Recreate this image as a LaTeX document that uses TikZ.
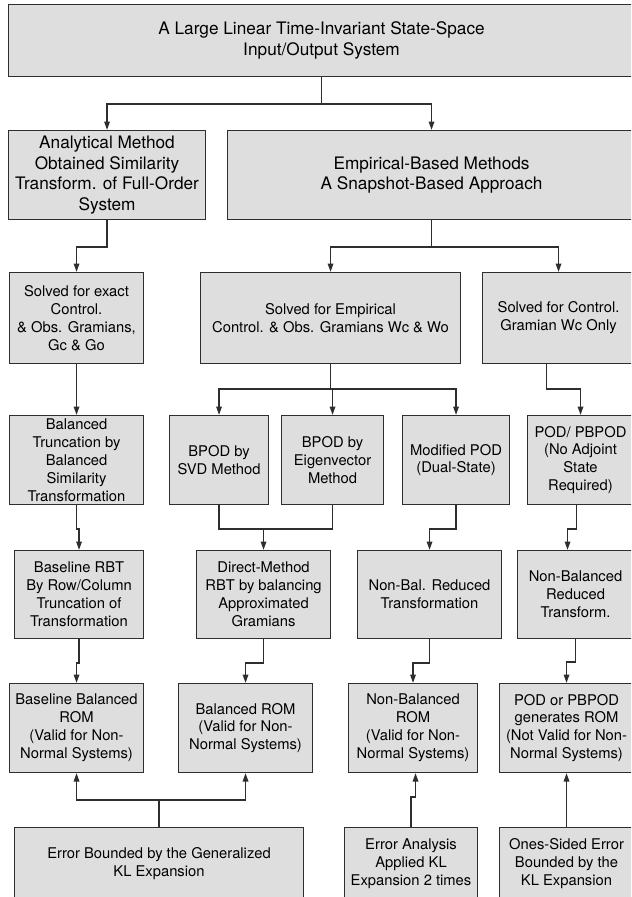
\documentclass[tikz,border=0pt]{standalone}
\usepackage{fontspec}
\setmainfont{TeX Gyre Heros}
\usepackage{tikz}
\usetikzlibrary{arrows.meta}
\definecolor{boxc}{HTML}{DEDEDE}
\definecolor{linec}{HTML}{2E2E2E}
\tikzset{
  blk/.style 2 args={draw=linec, fill=boxc, line width=0.6pt, inner sep=0pt, align=center,
    anchor=north west, minimum width=#1*0.2mm, minimum height=#2*0.2mm,
    font={\fontsize{8.4}{10.2}\selectfont}},
  headblk/.style 2 args={blk={#1}{#2}, font={\fontsize{9.8}{11.7}\selectfont}},
  link/.style={draw=linec, line width=0.9pt, -{Triangle[length=1.7mm,width=1.1mm]}},
  joint/.style={draw=linec, line width=0.9pt},
}
\begin{document}
\begin{tikzpicture}[x=0.2mm, y=-0.2mm]
\useasboundingbox (0,0) rectangle (631,897);
\fill[white] (0,0) rectangle (631,897);
\clip (0,0) rectangle (631,897);
\node[headblk={626}{72}] (top) at (8,4) {A Large Linear Time-Invariant State-Space\\Input/Output System};
\node[headblk={197}{89}] (ana) at (8,130) {Analytical Method\\Obtained Similarity\\Transform. of Full-Order\\System};
\node[headblk={408}{89}] (emp) at (227,130) {Empirical-Based Methods\\A Snapshot-Based Approach};
\node[blk={134}{91}] (exact) at (9,272) {Solved for exact\\Control.\\\& Obs. Gramians,\\Gc \& Go};
\node[blk={260}{91}] (empsol) at (200,272) {Solved for Empirical\\Control. \& Obs. Gramians Wc \& Wo};
\node[blk={152}{91}] (ctrl) at (482,272) {Solved for Control.\\Gramian Wc Only};
\node[blk={134}{89}] (baltr) at (9,415) {Balanced\\Truncation by\\Balanced\\Similarity\\Transformation};
\node[blk={99}{89}] (svd) at (169,415) {BPOD by\\SVD Method};
\node[blk={102}{89}] (eig) at (281,415) {BPOD by\\Eigenvector\\Method};
\node[blk={107}{89}] (modpod) at (402,415) {Modified POD\\(Dual-State)};
\node[blk={106}{89}] (pbpod) at (527,415) {POD/ PBPOD\\(No Adjoint\\State\\Required)};
\node[blk={129}{88}] (rbt) at (14,550) {Baseline RBT\\By Row/Column\\Truncation of\\Transformation};
\node[blk={134}{88}] (direct) at (196,550) {Direct-Method\\RBT by balancing\\Approximated\\Gramians};
\node[blk={144}{88}] (nonbal) at (357,550) {Non-Bal. Reduced\\Transformation};
\node[blk={116}{88}] (nbred) at (517,550) {Non-Balanced\\Reduced\\Transform.};
\node[blk={134}{89}] (bbrom) at (9,683) {Baseline Balanced\\ROM\\(Valid for Non-\\Normal Systems)};
\node[blk={134}{89}] (brom) at (178,683) {Balanced ROM\\(Valid for Non-\\Normal Systems)};
\node[blk={129}{89}] (nbrom) at (348,683) {Non-Balanced\\ROM\\(Valid for Non-\\Normal Systems)};
\node[blk={134}{89}] (podrom) at (499,683) {POD or PBPOD\\generates ROM\\(Not Valid for Non-\\Normal Systems)};
\node[blk={289}{72}] (errkl) at (14,827) {Error Bounded by the Generalized\\KL Expansion};
\node[blk={133}{72}] (errana) at (344,827) {Error Analysis\\Applied KL\\Expansion 2 times};
\node[blk={134}{72}] (onesided) at (499,827) {Ones-Sided Error\\Bounded by the\\KL Expansion};
\draw[link] (top.south) -- ++(0,27) -| (ana.north);
\draw[link] (top.south) -- ++(0,27) -| (emp.north);
\draw[link] (ana.south) -- ++(0,27) -| (exact.north);
\draw[link] (emp.south) -- ++(0,27) -| (empsol.north);
\draw[link] (emp.south) -- ++(0,27) -| (ctrl.north);
\draw[link] (exact.south) -- (baltr.north);
\draw[link] (empsol.south) -- ++(0,25) -| (svd.north);
\draw[link] (empsol.south) -- ++(0,25) -| (eig.north);
\draw[link] (empsol.south) -- ++(0,25) -| (modpod.north);
\draw[link] ([xshift=-2.4mm]ctrl.south) -- ++(0,25) -| (pbpod.north);
\draw[link] (baltr.south) -- ++(0,24) -| (rbt.north);
\draw[joint] (svd.south) -- ++(0,24) coordinate (bpodj) -| (eig.south);
\draw[link] (bpodj -| direct.north) -- (direct.north);
\draw[link] (modpod.south) -- ++(0,24) -| (nonbal.north);
\draw[link] ([xshift=-0.8mm]pbpod.south) -- ++(0,24) -| ([xshift=-1.6mm]nbred.north);
\draw[link] (rbt.south) -- ++(0,24) -| (bbrom.north);
\draw[link] (direct.south) -- ++(0,24) -| (brom.north);
\draw[link] (nonbal.south) -- ++(0,24) -| (nbrom.north);
\draw[link] (nbred.south) -- ++(0,23) -| (podrom.north);
\draw[joint] (errkl.north) -- ++(0,-27) coordinate (klj);
\draw[link] (klj) -| (bbrom.south);
\draw[link] (klj) -| (brom.south);
\draw[link] (errana.north) -- ++(0,-30) -| ([xshift=0.5mm]nbrom.south);
\draw[link] (onesided.north) -- (podrom.south);
\end{tikzpicture}
\end{document}
